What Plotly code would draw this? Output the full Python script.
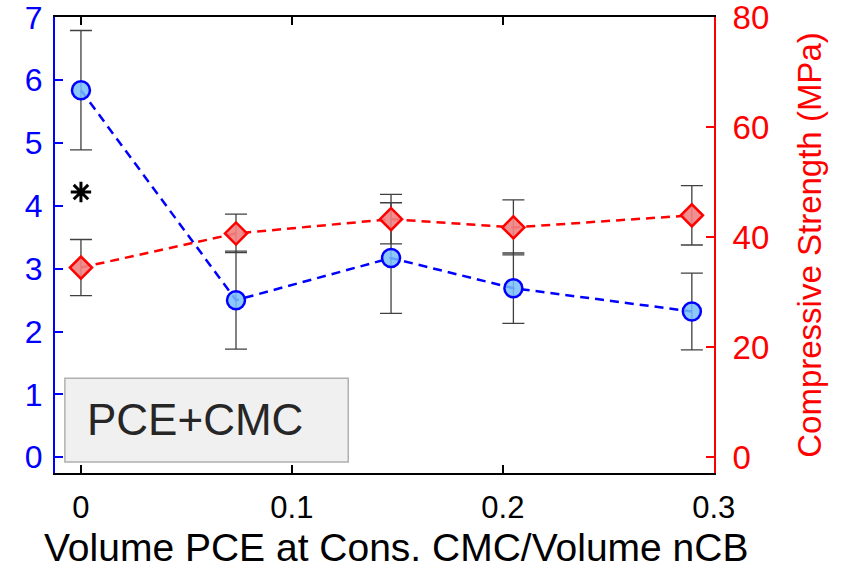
import plotly.graph_objects as go

# Data
x_vals = [0.0, 0.0735, 0.147, 0.205, 0.2896]
blue_vals = [5.84, 2.50, 3.17, 2.69, 2.32]
blue_err = [0.95, 0.78, 0.88, 0.56, 0.61]
red_vals = [34.5, 40.7, 43.3, 41.8, 44.0]
red_err = [5.1, 3.5, 4.5, 5.0, 5.4]
star_x = [0.0]
star_y = [4.22]
x_ticks = [0, 0.1, 0.2, 0.3]
x_ticklabels = ["0", "0.1", "0.2", "0.3"]
left_ticks = [0, 1, 2, 3, 4, 5, 6, 7]
right_ticks = [0, 20, 40, 60, 80]
box_label = "PCE+CMC"
x_title = "Volume PCE at Cons. CMC/Volume nCB"
right_title = "Compressive Strength (MPa)"

FONT = "Liberation Sans, Arial, sans-serif"

fig = go.Figure()

fig.add_trace(go.Scatter(
    x=x_vals, y=blue_vals, mode="lines+markers",
    line=dict(color="#0000ff", width=2.5, dash="9px,6px"),
    marker=dict(symbol="circle", size=18, color="rgba(120,190,250,0.85)",
                line=dict(color="#0000ff", width=2.5)),
    error_y=dict(type="data", array=blue_err, visible=True,
                 color="#404040", thickness=1.3, width=11),
    yaxis="y", showlegend=False,
))

fig.add_trace(go.Scatter(
    x=star_x, y=star_y, mode="markers",
    marker=dict(symbol="asterisk-open", size=17, color="#000000",
                line=dict(color="#000000", width=3)),
    yaxis="y", showlegend=False,
))

fig.add_trace(go.Scatter(
    x=x_vals, y=red_vals, mode="lines+markers",
    line=dict(color="#ff0000", width=2.5, dash="9px,6px"),
    marker=dict(symbol="diamond", size=17, color="rgba(240,130,130,0.9)",
                line=dict(color="#ff0000", width=2.5)),
    error_y=dict(type="data", array=red_err, visible=True,
                 color="#404040", thickness=1.3, width=11),
    yaxis="y2", showlegend=False,
))

fig.add_shape(type="rect", xref="paper", yref="paper",
              x0=0.015, x1=0.445, y0=0.024, y1=0.208,
              fillcolor="#f0f0f0", line=dict(color="#b0b0b0", width=1.5),
              layer="above")
fig.add_annotation(text=box_label, xref="paper", yref="paper",
                   x=0.046, y=0.118, xanchor="left", yanchor="middle",
                   showarrow=False,
                   font=dict(family=FONT, size=44, color="#262626"))
fig.add_annotation(text=x_title, xref="paper", yref="paper",
                   x=0.517, y=-0.164, xanchor="center", yanchor="middle",
                   showarrow=False,
                   font=dict(family=FONT, size=39, color="#000000"))

fig.update_layout(
    width=845, height=571,
    margin=dict(l=55, r=131, t=17, b=98),
    plot_bgcolor="white", paper_bgcolor="white",
    font=dict(family=FONT),
    xaxis=dict(
        range=[-0.0123, 0.3001], tickvals=x_ticks, ticktext=x_ticklabels,
        ticks="inside", ticklen=8, tickwidth=1.5, tickcolor="black",
        showline=True, linecolor="black", linewidth=2, mirror="ticks",
        showgrid=False, zeroline=False, ticklabelstandoff=6,
        ticklabeloverflow="allow", automargin=False,
        tickfont=dict(size=31, color="#000000"),
    ),
    yaxis=dict(
        range=[-0.25, 7.005], tickvals=left_ticks,
        ticks="inside", ticklen=8, tickwidth=1.5, tickcolor="#0000ff",
        showline=True, linecolor="#0000ff", linewidth=2,
        showgrid=False, zeroline=False, ticklabelstandoff=4,
        ticklabeloverflow="allow", automargin=False,
        tickfont=dict(size=32, color="#0000ff"),
    ),
    yaxis2=dict(
        range=[-80 * 0.25 / 7, 80.06], tickvals=right_ticks,
        overlaying="y", side="right", anchor="x",
        ticks="inside", ticklen=8, tickwidth=1.5, tickcolor="#ff0000",
        showline=True, linecolor="#ff0000", linewidth=2,
        showgrid=False, zeroline=False, ticklabelstandoff=10,
        ticklabeloverflow="allow", automargin=False,
        tickfont=dict(size=33, color="#ff0000"),
        title=dict(text=right_title, font=dict(size=33, color="#ff0000"), standoff=30),
    ),
)

fig.write_html("out.html")
